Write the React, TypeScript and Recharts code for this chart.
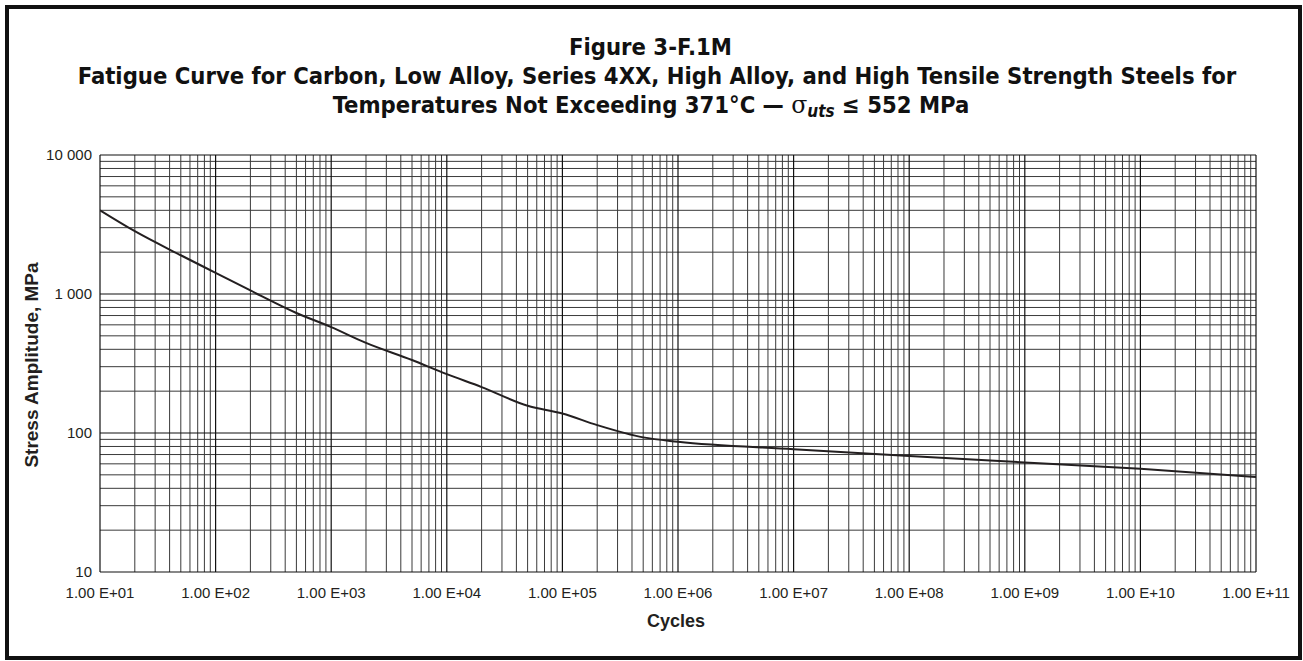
import { LineChart, Line, XAxis, YAxis, CartesianGrid, ReferenceLine } from 'recharts';

const cycles = [1e1, 2e1, 5e1, 1e2, 2e2, 5e2, 1e3, 2e3, 5e3, 1e4, 2e4, 5e4, 1e5, 2e5, 5e5, 1e6, 1e7, 1e8, 1e9, 1e10, 1e11];
const stress = [4000, 2830, 1900, 1420, 1060, 730, 578, 445, 335, 265, 214, 157, 138, 114, 93, 86.5, 76.5, 68.3, 61.4, 55.2, 48.3];

const xTicks = [1e1, 1e2, 1e3, 1e4, 1e5, 1e6, 1e7, 1e8, 1e9, 1e10, 1e11];
const xTickLabels = ['1.00 E+01', '1.00 E+02', '1.00 E+03', '1.00 E+04', '1.00 E+05', '1.00 E+06', '1.00 E+07', '1.00 E+08', '1.00 E+09', '1.00 E+10', '1.00 E+11'];
const yTicks = [10, 100, 1000, 10000];
const yTickLabels = ['10', '100', '1 000', '10 000'];

const data = cycles.map((n, i) => ({ n, s: stress[i] }));

// minor grid: 2..9 times each decade
const minorX: number[] = [];
for (let k = 1; k <= 10; k++) for (let m = 2; m <= 9; m++) minorX.push(m * Math.pow(10, k));
const minorY: number[] = [];
for (let k = 1; k <= 3; k++) for (let m = 2; m <= 9; m++) minorY.push(m * Math.pow(10, k));

const tickFont = { fontFamily: '"Liberation Sans", Arial, sans-serif', fontSize: 15, fill: '#231f20' };
const titleFont = '"DejaVu Sans Condensed", "DejaVu Sans", sans-serif';

export default function App() {
  return (
    <div style={{ position: 'absolute', left: 0, top: 0, width: 1303, height: 661, background: '#fff' }}>
      <div
        style={{
          position: 'absolute',
          left: 5,
          top: 5,
          width: 1297,
          height: 655,
          border: '4px solid #111',
          boxSizing: 'border-box',
        }}
      />
      <svg width={1303} height={130} style={{ position: 'absolute', left: 0, top: 0 }}>
        <g fontFamily={titleFont} fontWeight="bold" fontSize={23.6} fill="#111" textAnchor="middle">
          <text x={650.5} y={55}>Figure 3-F.1M</text>
          <text x={657} y={84}>
            Fatigue Curve for Carbon, Low Alloy, Series 4XX, High Alloy, and High Tensile Strength Steels for
          </text>
          <text x={651} y={112.5}>
            Temperatures Not Exceeding 371°C —{' '}
            <tspan fontFamily='"DejaVu Serif", serif' fontWeight="normal">σ</tspan>
            <tspan fontStyle="italic" fontSize={17} dy={4}>uts</tspan>
            <tspan dy={-4}> ≤ 552 MPa</tspan>
          </text>
        </g>
      </svg>
      <div style={{ position: 'absolute', left: 0, top: 0 }}>
        <LineChart width={1303} height={661} data={data} margin={{ top: 155, right: 47, left: 40, bottom: 49 }}>
          <CartesianGrid
            stroke="#3a3a3a"
            strokeWidth={1}
            verticalValues={minorX}
            horizontalValues={minorY}
          />
          {xTicks.map((v) => (
            <ReferenceLine key={'x' + v} x={v} stroke="#111" strokeWidth={1.2} />
          ))}
          {yTicks.map((v) => (
            <ReferenceLine key={'y' + v} y={v} stroke="#111" strokeWidth={1.2} />
          ))}
          <XAxis
            dataKey="n"
            type="number"
            scale="log"
            domain={[1e1, 1e11]}
            ticks={xTicks}
            tickFormatter={(v: number) => xTickLabels[xTicks.indexOf(v)] ?? ''}
            axisLine={false}
            tickLine={false}
            tickSize={0}
            tickMargin={15}
            height={40}
            tick={tickFont}
            allowDataOverflow
            interval={0}
          />
          <YAxis
            type="number"
            scale="log"
            domain={[10, 10000]}
            ticks={yTicks}
            tickFormatter={(v: number) => yTickLabels[yTicks.indexOf(v)] ?? ''}
            axisLine={false}
            tickLine={false}
            tickSize={0}
            tickMargin={8}
            width={60}
            tick={tickFont}
            allowDataOverflow
            interval={0}
          />
          <Line
            type="monotone"
            dataKey="s"
            stroke="#231f20"
            strokeWidth={2}
            dot={false}
            isAnimationActive={false}
          />
        </LineChart>
      </div>
      <div
        style={{
          position: 'absolute',
          left: 676,
          top: 621,
          transform: 'translate(-50%, -50%)',
          fontFamily: '"Liberation Sans", Arial, sans-serif',
          fontWeight: 'bold',
          fontSize: 18,
          lineHeight: 1,
          color: '#231f20',
          whiteSpace: 'nowrap',
        }}
      >
        Cycles
      </div>
      <div
        style={{
          position: 'absolute',
          left: 30.5,
          top: 364.5,
          transform: 'translate(-50%, -50%) rotate(-90deg)',
          fontFamily: '"Liberation Sans", Arial, sans-serif',
          fontWeight: 'bold',
          fontSize: 19,
          lineHeight: 1,
          color: '#231f20',
          whiteSpace: 'nowrap',
        }}
      >
        Stress Amplitude, MPa
      </div>
    </div>
  );
}
